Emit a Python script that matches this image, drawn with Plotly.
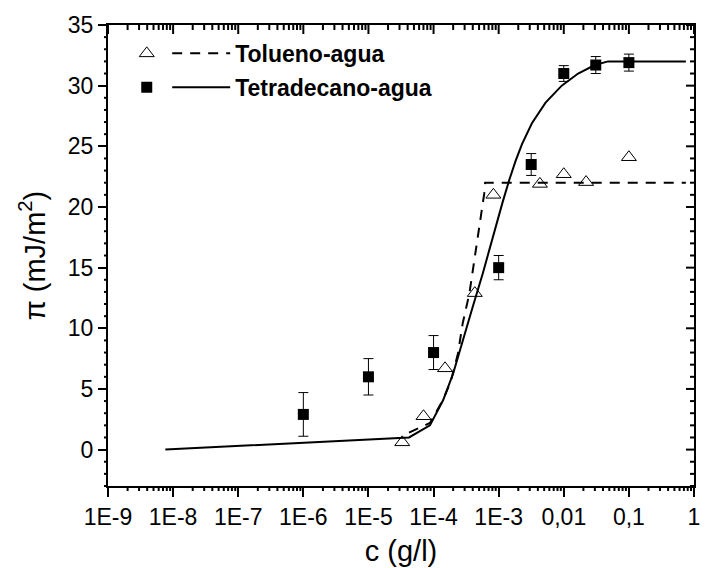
import math
import plotly.graph_objects as go

# ---- data ----
tol_c = [3.3e-5, 7.0e-5, 1.5e-4, 4.3e-4, 8.3e-4, 4.3e-3, 1.0e-2, 2.2e-2, 1.0e-1]
tol_pi = [0.6, 2.75, 6.7, 12.9, 21.0, 21.9, 22.7, 22.05, 24.1]

tet_c = [1e-6, 1e-5, 1e-4, 1e-3, 3.16e-3, 1e-2, 3.1e-2, 1.0e-1]
tet_pi = [2.9, 6.0, 8.0, 15.0, 23.5, 31.0, 31.7, 31.9]
tet_err = [1.8, 1.5, 1.4, 1.0, 0.9, 0.65, 0.7, 0.7]

fit_tet_c = [7.6e-9, 4.2e-5, 8.8e-5, 1.4e-4, 2.0e-4, 2.8e-4, 4.0e-4, 5.7e-4, 8.1e-4,
             1.15e-3, 1.45e-3, 1.82e-3, 2.29e-3, 3.24e-3, 5.25e-3, 9.3e-3, 1.66e-2,
             3.0e-2, 4.8e-2, 0.75]
fit_tet_pi = [0.0, 1.0, 2.0, 4.07, 6.27, 9.02, 11.77, 14.52, 17.54,
              20.4, 22.2, 23.8, 25.2, 26.9, 28.6, 30.0, 31.0,
              31.7, 32.0, 32.0]

fit_tol_c = [4.2e-5, 8.8e-5, 1.4e-4, 1.86e-4, 2.37e-4, 2.8e-4, 3.55e-4, 4.25e-4,
             5.0e-4, 6.0e-4, 6.2e-4, 0.75]
fit_tol_pi = [1.4, 2.2, 4.1, 5.72, 7.92, 10.4, 12.87, 15.6, 18.37, 21.1, 22.0, 22.0]

x_tickvals = [1e-9, 1e-8, 1e-7, 1e-6, 1e-5, 1e-4, 1e-3, 1e-2, 1e-1, 1]
x_ticktext = ["1E-9", "1E-8", "1E-7", "1E-6", "1E-5", "1E-4", "1E-3", "0,01", "0,1", "1"]
y_majors = [0, 5, 10, 15, 20, 25, 30, 35]

labels = ["Tolueno-agua", "Tetradecano-agua"]

X_RANGE_LOG = [-9, 0]
Y_RANGE = [-3, 35]

FONT = "Arial, Liberation Sans, sans-serif"

fig = go.Figure()

fig.add_trace(go.Scatter(x=fit_tol_c, y=fit_tol_pi, mode="lines",
                         line=dict(color="black", width=2, dash="10px,8px"),
                         name=labels[0], legend="legend2", legendgroup="a"))
fig.add_trace(go.Scatter(x=fit_tet_c, y=fit_tet_pi, mode="lines",
                         line=dict(color="black", width=2),
                         name=labels[1], legend="legend2", legendgroup="b"))
fig.add_trace(go.Scatter(x=tol_c, y=tol_pi, mode="markers",
                         marker=dict(symbol="triangle-up-open", size=13, color="black",
                                     line=dict(width=1, color="black")),
                         name=" ", legend="legend", legendgroup="c"))
fig.add_trace(go.Scatter(x=tet_c, y=tet_pi, mode="markers",
                         marker=dict(symbol="square", size=11, color="black"),
                         error_y=dict(type="data", array=tet_err, color="black",
                                      thickness=1, width=5),
                         name=" ", legend="legend", legendgroup="d"))

# ---- axis furniture: minor ticks and inward ticks on top/right (Origin style frame) ----
def fx(v):
    return (math.log10(v) - X_RANGE_LOG[0]) / (X_RANGE_LOG[1] - X_RANGE_LOG[0])

def fy(v):
    return (v - Y_RANGE[0]) / (Y_RANGE[1] - Y_RANGE[0])

x_minor = [k * 10.0 ** e for e in range(X_RANGE_LOG[0], X_RANGE_LOG[1]) for k in range(2, 10)]
y_minor = [v for v in range(Y_RANGE[0], Y_RANGE[1] + 1) if v % 5 != 0]

tick_line = dict(color="black", width=2)
shapes = []
for v in x_minor:
    shapes.append(dict(type="line", xref="paper", yref="paper", x0=fx(v), x1=fx(v),
                       ysizemode="pixel", yanchor=0, y0=0, y1=-5, line=tick_line))
    shapes.append(dict(type="line", xref="paper", yref="paper", x0=fx(v), x1=fx(v),
                       ysizemode="pixel", yanchor=1, y0=0, y1=-5, line=tick_line))
for v in x_tickvals:
    shapes.append(dict(type="line", xref="paper", yref="paper", x0=fx(v), x1=fx(v),
                       ysizemode="pixel", yanchor=1, y0=0, y1=-9, line=tick_line))
for v in y_minor:
    shapes.append(dict(type="line", xref="paper", yref="paper", y0=fy(v), y1=fy(v),
                       xsizemode="pixel", xanchor=0, x0=0, x1=-4, line=tick_line))
    shapes.append(dict(type="line", xref="paper", yref="paper", y0=fy(v), y1=fy(v),
                       xsizemode="pixel", xanchor=1, x0=0, x1=-4, line=tick_line))
for v in y_majors:
    shapes.append(dict(type="line", xref="paper", yref="paper", y0=fy(v), y1=fy(v),
                       xsizemode="pixel", xanchor=1, x0=0, x1=-8, line=tick_line))

fig.update_layout(
    width=706, height=568,
    margin=dict(l=108, r=6, t=25, b=82),
    paper_bgcolor="white", plot_bgcolor="white",
    font=dict(family=FONT, color="black"),
    xaxis=dict(type="log", range=X_RANGE_LOG, tickmode="array", tickvals=x_tickvals,
               ticktext=x_ticktext, ticks="outside", ticklen=9, tickwidth=2, tickcolor="black",
               showline=True, mirror=True, linecolor="black", linewidth=2,
               showgrid=False, zeroline=False,
               tickfont=dict(size=23, family=FONT),
               title=dict(text="c (g/l)", font=dict(size=29, family=FONT), standoff=12)),
    yaxis=dict(range=Y_RANGE, tickmode="array", tickvals=y_majors, ticks="outside",
               ticklen=8, tickwidth=2, tickcolor="black",
               showline=True, mirror=True, linecolor="black", linewidth=2,
               showgrid=False, zeroline=False,
               tickfont=dict(size=23, family=FONT),
               title=dict(text="π (mJ/m<sup>2</sup>)", font=dict(size=29, family=FONT), standoff=14)),
    shapes=shapes,
    legend=dict(x=0.032, y=0.985, xanchor="left", yanchor="top", bgcolor="rgba(0,0,0,0)",
                font=dict(size=23, family=FONT, weight="bold"), traceorder="grouped",
                tracegroupgap=1, itemwidth=30),
    legend2=dict(x=0.101, y=0.985, xanchor="left", yanchor="top", bgcolor="rgba(0,0,0,0)",
                 font=dict(size=23, family=FONT, weight="bold"), traceorder="grouped",
                 tracegroupgap=1, itemwidth=58),
    showlegend=True,
)

fig.write_html("out.html")
